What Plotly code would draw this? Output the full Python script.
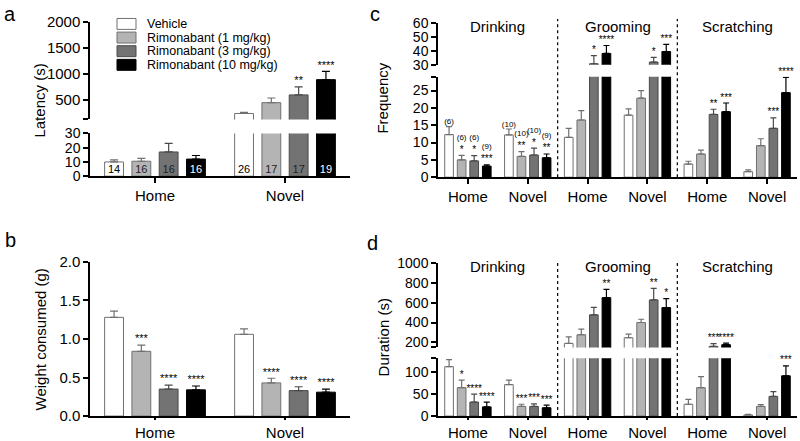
import plotly.graph_objects as go

W, H = 800, 441
FONT = "Liberation Sans, Arial, sans-serif"
# vertical placement: reference pixel rows are mapped onto the page through (p - TOP) / SPAN
TOP, SPAN = 8, 425

# ---------------- data ----------------
groups = ["Vehicle", "Rimonabant (1 mg/kg)", "Rimonabant (3 mg/kg)", "Rimonabant (10 mg/kg)"]
contexts = ["Home", "Novel"]
behaviours = ["Drinking", "Grooming", "Scratching"]
behaviour_ticks = ["Home", "Novel", "Home", "Novel", "Home", "Novel"]

# panel a : latency (s)
latency_mean = [[10, 231], [10.5, 440], [17, 590], [12, 885]]
latency_err = [[1.5, 20], [2, 90], [6, 155], [2.5, 160]]
latency_n = [["14", "26"], ["16", "17"], ["16", "17"], ["16", "19"]]
latency_sig = [["", ""], ["", ""], ["", "**"], ["", "****"]]

# panel b : weight consumed (g)
weight_mean = [[1.28, 1.06], [0.84, 0.43], [0.35, 0.33], [0.34, 0.31]]
weight_err = [[0.08, 0.07], [0.08, 0.06], [0.05, 0.05], [0.05, 0.04]]
weight_sig = [["", ""], ["***", "****"], ["****", "****"], ["****", "****"]]

# panel c : frequency
freq_mean = [[12.3, 12.2, 11.5, 17.9, 3.8, 1.6],
             [5.0, 6.0, 16.5, 22.8, 6.7, 9.1],
             [4.7, 6.4, 30.7, 31.9, 18.1, 14.1],
             [3.2, 5.6, 38.1, 39.5, 18.9, 24.4]]
freq_err = [[2.3, 1.7, 2.6, 1.8, 0.8, 0.5],
            [1.3, 1.4, 2.7, 2.2, 1.1, 2.0],
            [1.5, 2.0, 5.8, 3.4, 1.5, 3.0],
            [0.4, 1.1, 5.7, 5.1, 2.5, 4.4]]
freq_sig = [["", "", "", "", "", ""],
            ["*", "**", "", "", "", ""],
            ["*", "*", "*", "*", "**", "***"],
            ["***", "**", "****", "***", "***", "****"]]
freq_n = [["(6)", "(10)", "", "", "", ""],
          ["(6)", "(10)", "", "", "", ""],
          ["(6)", "(10)", "", "", "", ""],
          ["(9)", "(9)", "", "", "", ""]]

# panel d : duration (s)
dur_mean = [[113, 72, 190, 247, 27, 2.5],
            [65, 22, 277, 400, 65, 22],
            [32, 22, 477, 627, 160, 45],
            [21, 19, 650, 550, 177, 92]]
dur_err = [[16, 10, 65, 36, 11, 1.5],
           [17, 5, 56, 33, 25, 4],
           [18, 6, 76, 116, 27, 11],
           [11, 6, 83, 90, 16, 23]]
dur_sig = [["", "", "", "", "", ""],
           ["*", "***", "", "", "", ""],
           ["****", "***", "", "**", "***", ""],
           ["****", "***", "**", "*", "****", "***"]]

# ---------------- style ----------------
fills = ["#ffffff", "#b4b4b4", "#737373", "#000000"]
edges = ["#707070", "#707070", "#4a4a4a", "#000000"]
ntext_colors = ["#000000", "#222222", "#222222", "#ffffff"]


def px(p):
    return min(max(p / W, 0), 1)


def py(p):
    return min(max(1 - (p - TOP) / SPAN, 0), 1)


fig = go.Figure()


def add_bars(x, means, errs, xa, ya, cap):
    for g in range(4):
        fig.add_trace(go.Bar(
            x=x, y=means[g], name=groups[g], offsetgroup=str(g), showlegend=False,
            xaxis=xa, yaxis=ya,
            marker=dict(color=fills[g], line=dict(color=edges[g], width=1)),
            error_y=dict(type="data", symmetric=False, array=errs[g],
                         arrayminus=[0] * len(x), color=edges[g], thickness=1.2, width=cap),
            hoverinfo="skip"))


def add_text(x, ys, texts, xa, ya, size, colors=None):
    for g in range(4):
        yy = [y if t else None for y, t in zip(ys[g], texts[g])]
        fig.add_trace(go.Scatter(
            x=x, y=yy, text=texts[g], mode="text", textposition="top center",
            offsetgroup=str(g), xaxis=xa, yaxis=ya, cliponaxis=False, showlegend=False,
            textfont=dict(size=size, color=(colors[g] if colors else "black"), family=FONT),
            hoverinfo="skip"))


def split_labels(means, errs, labels, bottom_max):
    tops = [[m + e for m, e in zip(means[g], errs[g])] for g in range(4)]
    low = [[t if tp <= bottom_max else "" for t, tp in zip(labels[g], tops[g])] for g in range(4)]
    high = [[t if tp > bottom_max else "" for t, tp in zip(labels[g], tops[g])] for g in range(4)]
    return tops, low, high


# ---- panel a (broken axis) ----
A_LOW, A_HIGH = [0, 30], [115, 2000]
add_bars(contexts, latency_mean, latency_err, "x", "y", 4)
add_bars(contexts, latency_mean, latency_err, "x2", "y2", 4)
tops, low, high = split_labels(latency_mean, latency_err, latency_sig, A_LOW[1])
add_text(contexts, tops, low, "x", "y", 11)
add_text(contexts, tops, high, "x2", "y2", 11)
add_text(contexts, [[0, 0]] * 4, latency_n, "x", "y", 11, colors=ntext_colors)

# ---- panel b ----
add_bars(contexts, weight_mean, weight_err, "x3", "y3", 4)
tops = [[m + e for m, e in zip(weight_mean[g], weight_err[g])] for g in range(4)]
add_text(contexts, tops, weight_sig, "x3", "y3", 11)

# ---- panel c (broken axis) ----
pos6 = list(range(len(behaviour_ticks)))
C_LOW, C_HIGH = [0, 29], [30, 60]
add_bars(pos6, freq_mean, freq_err, "x4", "y4", 3)
add_bars(pos6, freq_mean, freq_err, "x5", "y5", 3)
freq_lab = [[(f"<span style='font-size:8px'>{n}</span>" + ("<br>" + s if s else "")) if n else s
             for n, s in zip(freq_n[g], freq_sig[g])] for g in range(4)]
tops, low, high = split_labels(freq_mean, freq_err, freq_lab, C_LOW[1])
add_text(pos6, tops, low, "x4", "y4", 10)
add_text(pos6, tops, high, "x5", "y5", 10)

# ---- panel d (broken axis) ----
D_LOW, D_HIGH = [0, 132], [150, 1000]
add_bars(pos6, dur_mean, dur_err, "x6", "y6", 3)
add_bars(pos6, dur_mean, dur_err, "x7", "y7", 3)
tops, low, high = split_labels(dur_mean, dur_err, dur_sig, D_LOW[1])
add_text(pos6, tops, low, "x6", "y6", 10)
add_text(pos6, tops, high, "x7", "y7", 10)

# ---------------- axes ----------------
def axis_style(size, ticklen=5):
    return dict(showline=True, linecolor="black", linewidth=1.5, ticks="outside",
                ticklen=ticklen, tickwidth=1.5, tickcolor="black", showgrid=False, zeroline=False,
                tickfont=dict(size=size, color="black", family=FONT))


left = axis_style(15)
left_small = axis_style(14)
right = axis_style(14)
xtick_top = axis_style(15)
xtick_bottom = axis_style(15, ticklen=2)

xa_left = [px(90), px(350)]
xa_right = [px(438), px(797)]

fig.update_layout(
    xaxis=dict(domain=xa_left, anchor="y", range=[-0.5, 1.5], type="category", **xtick_top),
    yaxis=dict(domain=[py(176), py(133)], anchor="x", range=A_LOW, tickvals=[0, 10, 20, 30], **left_small),
    xaxis2=dict(domain=xa_left, anchor="y2", matches="x", visible=False),
    yaxis2=dict(domain=[py(119), py(21)], anchor="x2", range=A_HIGH,
                tickvals=[A_HIGH[0], 500, 1000, 1500, 2000], ticktext=["", "500", "1000", "1500", "2000"],
                **left),
    xaxis3=dict(domain=xa_left, anchor="y3", range=[-0.5, 1.5], type="category", **xtick_bottom),
    yaxis3=dict(domain=[py(417), py(262)], anchor="x3", range=[0, 2], tickvals=[0, 0.5, 1, 1.5, 2],
                ticktext=["0.0", "0.5", "1.0", "1.5", "2.0"], **left),
    xaxis4=dict(domain=xa_right, anchor="y4", range=[-0.5, 5.5], tickvals=pos6, ticktext=behaviour_ticks,
                **xtick_top),
    yaxis4=dict(domain=[py(177), py(76)], anchor="x4", range=C_LOW,
                tickvals=[0, 5, 10, 15, 20, 25, C_LOW[1]], ticktext=["0", "5", "10", "15", "20", "25", ""],
                **right),
    xaxis5=dict(domain=xa_right, anchor="y5", matches="x4", visible=False),
    yaxis5=dict(domain=[py(64), py(22)], anchor="x5", range=C_HIGH, tickvals=[30, 40, 50, 60], **right),
    xaxis6=dict(domain=xa_right, anchor="y6", range=[-0.5, 5.5], tickvals=pos6, ticktext=behaviour_ticks,
                **xtick_bottom),
    yaxis6=dict(domain=[py(417), py(359)], anchor="x6", range=D_LOW,
                tickvals=[0, 50, 100, D_LOW[1]], ticktext=["0", "50", "100", ""], **right),
    xaxis7=dict(domain=xa_right, anchor="y7", matches="x6", visible=False),
    yaxis7=dict(domain=[py(348), py(263)], anchor="x7", range=D_HIGH,
                tickvals=[D_HIGH[0], 200, 400, 600, 800, 1000],
                ticktext=["", "200", "400", "600", "800", "1000"], **right),
)

# ---------------- dividers, section titles, axis titles, legend ----------------
shapes = []
annotations = []


def label(text, x, y, size, angle=0, xanchor="center"):
    annotations.append(dict(text=text, xref="paper", yref="paper", x=px(x), y=py(y), textangle=angle,
                            xanchor=xanchor, yanchor="middle", showarrow=False,
                            font=dict(size=size, family=FONT, color="black")))


for xa, y0, y1, ylab in [("x4", 177, 18, 26), ("x6", 417, 263, 267)]:
    for i in range(1, len(behaviours)):
        xd = 2 * i - 0.5
        shapes.append(dict(type="line", xref=xa, yref="paper", x0=xd, x1=xd, y0=py(y0), y1=py(y1),
                           line=dict(color="black", width=1.2, dash="dot")))
    for i, b in enumerate(behaviours):
        annotations.append(dict(text=b, xref=xa, yref="paper", x=2 * i + 0.5, y=py(ylab),
                                xanchor="center", yanchor="middle", showarrow=False,
                                font=dict(size=15, family=FONT, color="black")))

for text, x, y in [("Latency (s)", 40, 100), ("Weight consumed (g)", 40, 340),
                   ("Frequency", 383, 98), ("Duration (s)", 383, 338)]:
    label(text, x, y, 15, angle=-90)

for text, x, y in [("a", 10, 13), ("b", 10, 240), ("c", 375, 13), ("d", 372, 243)]:
    label(text, x, y, 20)

# legend (swatches + labels)
LEG_X0, LEG_Y0, LEG_DY, SW_W, SW_H = 117, 23, 13.7, 19, 11
for g, name in enumerate(groups):
    yc = LEG_Y0 + g * LEG_DY
    shapes.append(dict(type="rect", xref="paper", yref="paper",
                       x0=px(LEG_X0), x1=px(LEG_X0 + SW_W), y0=py(yc + SW_H / 2), y1=py(yc - SW_H / 2),
                       fillcolor=fills[g], line=dict(color=edges[g], width=1)))
    label(name, LEG_X0 + SW_W + 9, yc, 12.5, xanchor="left")

fig.update_layout(
    width=W, height=H, margin=dict(l=0, r=0, t=0, b=0),
    paper_bgcolor="white", plot_bgcolor="white",
    barmode="group", bargap=0.16, bargroupgap=0.31,
    scattermode="group", scattergap=0.16,
    font=dict(family=FONT, color="black"),
    shapes=shapes, annotations=annotations,
    showlegend=False,
)

fig.write_html("out.html", config={"displayModeBar": False},
               post_script="document.body.style.margin='0px';document.body.style.overflow='hidden';")
